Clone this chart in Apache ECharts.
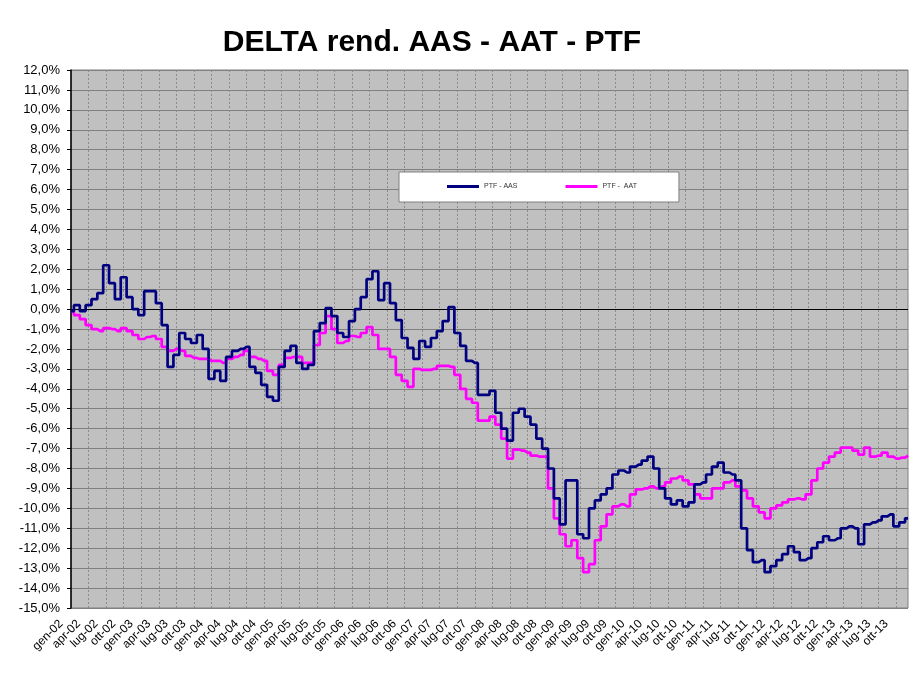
<!DOCTYPE html>
<html>
<head>
<meta charset="utf-8">
<title>DELTA rend. AAS - AAT - PTF</title>
<script src="https://cdn.jsdelivr.net/npm/echarts@6/dist/echarts.min.js"></script>
<style>
  html, body { margin: 0; padding: 0; background: #fff; }
  #chart { width: 922px; height: 675px; }
</style>
</head>
<body>
<div id="chart"></div>
<script>
// month abbreviations and years used to build the category axis
const monthNames = ['gen', 'feb', 'mar', 'apr', 'mag', 'giu', 'lug', 'ago', 'set', 'ott', 'nov', 'dic'];
const years = ['02', '03', '04', '05', '06', '07', '08', '09', '10', '11', '12', '13'];

// PTF - AAS, monthly (%)
const ptfAas = [
  -0.1, 0.2, -0.1, 0.2, 0.5, 0.8, 2.2, 1.3, 0.5, 1.6, 0.6, 0.0,
  -0.3, 0.9, 0.9, 0.3, -0.8, -2.9, -2.3, -1.2, -1.5, -1.7, -1.3, -2.0,
  -3.5, -3.1, -3.6, -2.4, -2.1, -2.0, -1.9, -2.9, -3.2, -3.8, -4.4, -4.6,
  -2.9, -2.1, -1.85, -2.7, -3.0, -2.8, -1.1, -0.7, 0.05, -0.35, -1.2, -1.4,
  -0.6, 0.0, 0.6, 1.5, 1.9, 0.45, 1.3, 0.3, -0.55, -1.45, -1.95, -2.5,
  -1.6, -1.9, -1.45, -1.1, -0.6, 0.1, -1.2, -1.85, -2.6, -2.7, -4.3, -4.3,
  -4.1, -5.2, -6.0, -6.6, -5.2, -5.0, -5.4, -5.8, -6.5, -7.0, -8.0, -9.5,
  -10.8, -8.6, -8.6, -11.3, -11.5, -10.0, -9.6, -9.3, -9.0, -8.3, -8.1, -8.2,
  -7.9, -7.8, -7.6, -7.4, -8.0, -9.0, -9.5, -9.8, -9.6, -9.9, -9.7, -8.8,
  -8.7, -8.3, -7.9, -7.7, -8.2, -8.3, -8.6, -11.0, -12.1, -12.7, -12.6, -13.2,
  -12.9, -12.6, -12.3, -11.9, -12.2, -12.6, -12.5, -12.0, -11.7, -11.4, -11.6, -11.5,
  -11.0, -10.9, -11.0, -11.8, -10.8, -10.7, -10.6, -10.4, -10.3, -10.9, -10.7, -10.5
];

// PTF - AAT, monthly (%)
const ptfAat = [
  -0.1, -0.3, -0.5, -0.8, -1.0, -1.1, -0.95, -1.0, -1.1, -0.95, -1.1, -1.3,
  -1.5, -1.4, -1.35, -1.5, -1.9, -2.1, -2.0, -2.1, -2.35, -2.45, -2.5, -2.5,
  -2.6, -2.6, -2.7, -2.5, -2.4, -2.3, -2.1, -2.4, -2.5, -2.6, -3.1, -3.3,
  -2.8, -2.45, -2.4, -2.4, -2.7, -2.7, -1.8, -1.2, -0.35, -1.0, -1.7, -1.6,
  -1.35, -1.4, -1.2, -0.9, -1.3, -2.0, -2.0, -2.4, -3.3, -3.6, -3.9, -3.0,
  -3.05, -3.05, -3.0, -2.85, -2.85, -2.9, -3.3, -4.0, -4.5, -4.7, -5.6, -5.6,
  -5.4, -5.8, -6.5, -7.5, -7.05, -7.1, -7.2, -7.35, -7.4, -7.4, -9.0, -10.5,
  -11.3, -11.9, -11.6, -12.5, -13.2, -12.8, -11.6, -10.9, -10.3, -9.9, -9.8, -9.9,
  -9.3, -9.05, -9.0, -8.9, -9.0, -8.9, -8.7, -8.5, -8.4, -8.6, -8.8, -9.3,
  -9.5, -9.5, -9.0, -9.0, -8.7, -8.6, -8.9, -9.1, -9.5, -9.9, -10.2, -10.5,
  -10.0, -9.85, -9.7, -9.55, -9.5, -9.55, -9.3, -8.6, -8.0, -7.7, -7.4, -7.2,
  -6.95, -6.95, -7.1, -7.3, -6.95, -7.4, -7.35, -7.2, -7.4, -7.5, -7.45, -7.35
];

const yMin = -15;
const yMax = 12;

const categories = [];
years.forEach(y => monthNames.forEach(m => categories.push(m + '-' + y)));

// horizontal grid lines: gray, the 0% one black
const splitColors = [];
for (let v = yMin; v <= yMax; v++) splitColors.push(v === 0 ? '#000000' : '#808080');

const font = "'Liberation Sans', Arial, sans-serif";
const chart = echarts.init(document.getElementById('chart'));

const option = {
  animation: false,
  title: {
    text: 'DELTA rend. AAS - AAT - PTF',
    left: 427,
    top: 23,
    textAlign: 'center',
    textStyle: { fontFamily: font, fontSize: 30, fontWeight: 'bold', color: '#000' }
  },
  tooltip: { trigger: 'axis' },
  legend: {
    data: ['PTF - AAS', 'PTF -  AAT'],
    left: 399,
    top: 172,
    padding: [11, 42, 12, 48],
    itemGap: 48,
    itemWidth: 32,
    itemHeight: 3,
    icon: 'rect',
    backgroundColor: '#ffffff',
    borderColor: '#808080',
    borderWidth: 1,
    textStyle: { fontFamily: font, fontSize: 7, color: '#333' }
  },
  grid: {
    show: true,
    left: 71,
    right: 14,
    top: 70,
    bottom: 67,
    backgroundColor: '#c0c0c0',
    borderColor: '#808080',
    borderWidth: 1
  },
  xAxis: {
    type: 'category',
    data: categories,
    boundaryGap: false,
    axisLine: { show: false },
    axisTick: { show: false },
    axisLabel: {
      interval: 2,
      rotate: 45,
      margin: 4,
      padding: [0, 14, 0, 0],
      fontFamily: font,
      fontSize: 12,
      color: '#000'
    },
    splitLine: {
      show: true,
      interval: 2,
      lineStyle: { color: '#8a8a8a', type: [2, 2], width: 1 }
    }
  },
  yAxis: {
    type: 'value',
    min: yMin,
    max: yMax,
    interval: 1,
    axisLine: { show: true, lineStyle: { color: '#000', width: 1.5 } },
    axisTick: { show: true, length: 4, lineStyle: { color: '#000' } },
    axisLabel: {
      margin: 11,
      fontFamily: font,
      fontSize: 13,
      color: '#000',
      formatter: v => v.toFixed(1).replace('-0.0', '0.0').replace('.', ',') + '%'
    },
    splitLine: {
      show: true,
      showMinLine: true,
      showMaxLine: true,
      lineStyle: { color: splitColors, width: 1 }
    }
  },
  series: [
    {
      name: 'PTF - AAS',
      type: 'line',
      step: 'middle',
      data: ptfAas,
      showSymbol: false,
      symbol: 'none',
      lineStyle: { color: '#000080', width: 2.7 },
      itemStyle: { color: '#000080' },
      z: 3
    },
    {
      name: 'PTF -  AAT',
      type: 'line',
      step: 'middle',
      data: ptfAat,
      showSymbol: false,
      symbol: 'none',
      lineStyle: { color: '#ff00ff', width: 2.7 },
      itemStyle: { color: '#ff00ff' },
      z: 2
    }
  ]
};

chart.setOption(option);
</script>
</body>
</html>
